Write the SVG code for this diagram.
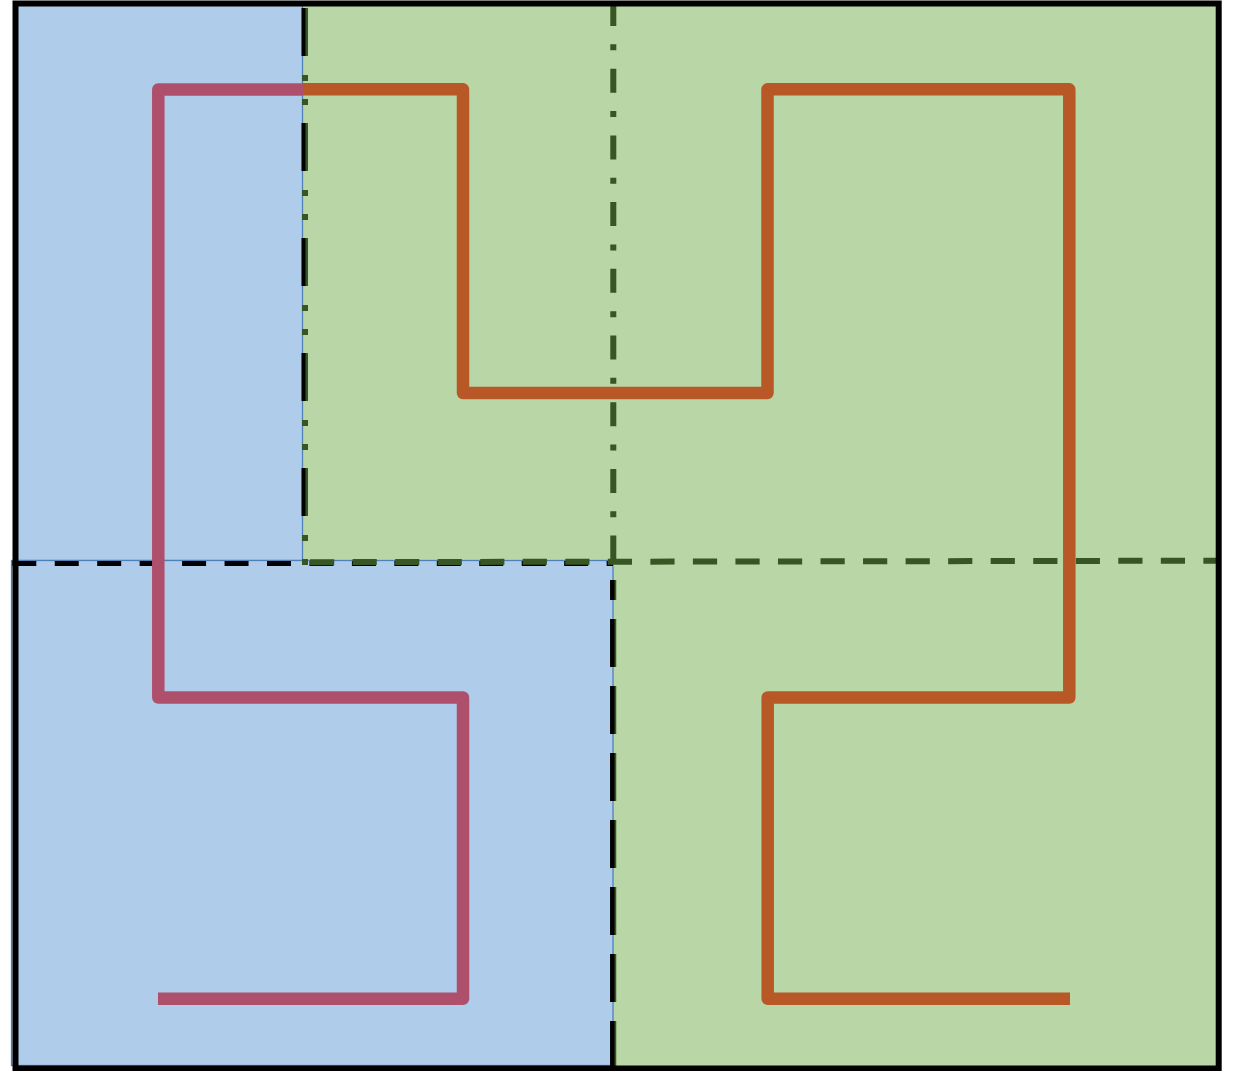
<svg xmlns="http://www.w3.org/2000/svg" width="1235" height="1071" viewBox="0 0 1235 1071">
  <style>
    .blue { fill: #AFCDEA; stroke: #4F80B8; stroke-width: 1.3; }
    .green { fill: #B9D7A6; }
    .edge { fill: none; }
    .route { fill: none; stroke-width: 12.5; stroke-linejoin: round; stroke-linecap: butt; }
  </style>
  <rect width="1235" height="1071" fill="#ffffff"/>

  <!-- regions -->
  <g id="regions">
    <rect id="region-right" class="green" x="613" y="4" width="606" height="1064"/>
    <rect id="region-upper-mid" class="green" x="303" y="4" width="310" height="557"/>
    <rect id="region-upper-left" class="blue" x="15" y="4" width="287.5" height="556.5"/>
    <rect id="region-lower-left" class="blue" x="11.5" y="560.5" width="601.5" height="505"/>
  </g>

  <!-- partition lines -->
  <g id="connectors">
    <!-- vertical split at x=303: long dash dot dot -->
    <line class="edge" x1="305" y1="8" x2="305" y2="566" stroke="#375623" stroke-width="6" stroke-dasharray="48 19 6 18 6 18"/>
    <line class="edge" x1="303.5" y1="8" x2="303.5" y2="566" stroke="#000000" stroke-width="4" stroke-dasharray="48 67"/>
    <!-- vertical split at x=613 (upper half): dash dot -->
    <line class="edge" x1="613.3" y1="2" x2="613.3" y2="562" stroke="#375623" stroke-width="6" stroke-dasharray="24 18.35 6 18.35"/>
    <!-- vertical split at x=613 (lower half): long dash -->
    <line class="edge" x1="614" y1="580" x2="614" y2="1068" stroke="#375623" stroke-width="4.5" stroke-dasharray="48 19" stroke-dashoffset="28"/>
    <line class="edge" x1="612.3" y1="580" x2="612.3" y2="1068" stroke="#000000" stroke-width="4.5" stroke-dasharray="48 19" stroke-dashoffset="28"/>
    <!-- horizontal split, left part: black dash -->
    <line class="edge" x1="12.3" y1="563.5" x2="613" y2="563.5" stroke="#000000" stroke-width="5" stroke-dasharray="24 18.45"/>
    <!-- horizontal split, right part: dark green dash -->
    <line class="edge" x1="303" y1="562.2" x2="1216" y2="560.7" stroke="#375623" stroke-width="6" stroke-dasharray="24.2 18.34" stroke-dashoffset="35.5"/>
  </g>

  <!-- curve segments -->
  <g id="curve-pink">
    <polyline class="route" stroke="#AE506B" points="303,89.5 158.3,89.5 158.3,697.5 463,697.5 463,998.8 158,998.8"/>
  </g>
  <g id="curve-orange">
    <polyline class="route" stroke="#B85826" points="303,89.3 463,89.3 463,393 767.5,393 767.5,89.3 1069.3,89.3 1069.3,697.5 767.7,697.5 767.7,998.8 1070,998.8"/>
  </g>

  <!-- outer frame -->
  <g id="frame">
    <rect x="15.5" y="3.5" width="1203.2" height="1065" fill="none" stroke="#000000" stroke-width="6"/>
  </g>
</svg>
